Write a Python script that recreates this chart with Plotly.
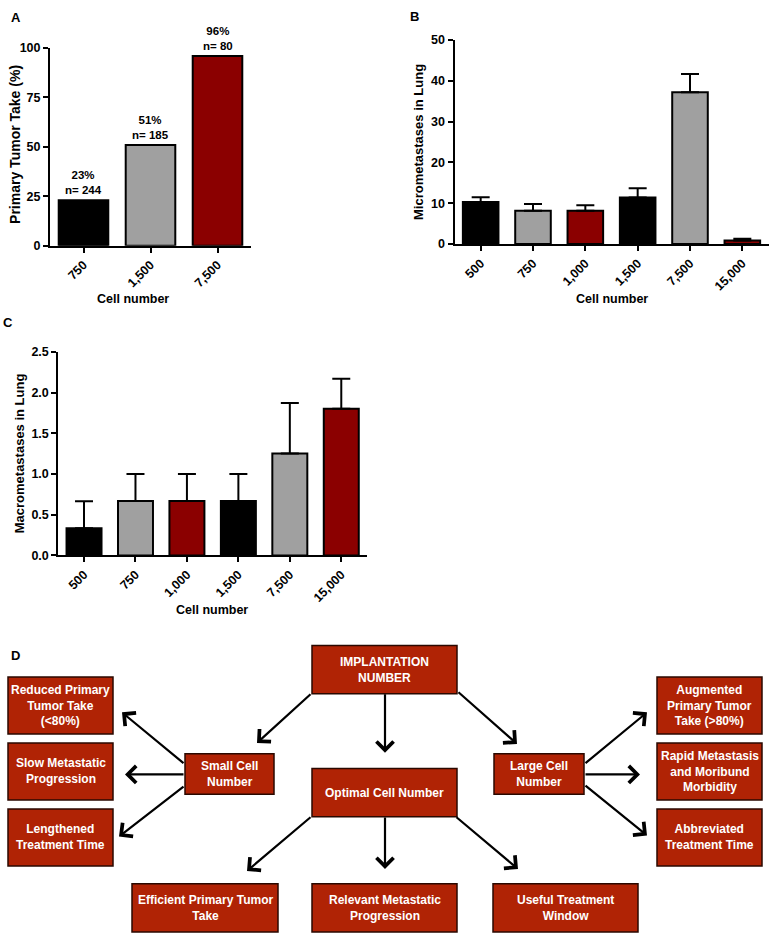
import plotly.graph_objects as go

# ---------------- data ----------------
cats_A = ["750", "1,500", "7,500"]
take_pct = [23, 51, 96]
n_mice = [244, 185, 80]

cats_BC = ["500", "750", "1,000", "1,500", "7,500", "15,000"]
micro_mean = [10.3, 8.2, 8.2, 11.4, 37.2, 0.9]
micro_sem = [1.2, 1.6, 1.3, 2.3, 4.5, 0.4]
macro_mean = [0.333, 0.667, 0.667, 0.667, 1.25, 1.8]
macro_sem = [0.333, 0.333, 0.333, 0.333, 0.62, 0.37]

flow_labels = [
    "IMPLANTATION<br>NUMBER",
    "Small Cell<br>Number",
    "Optimal Cell Number",
    "Large Cell<br>Number",
    "Reduced Primary<br>Tumor Take<br>(&lt;80%)",
    "Slow Metastatic<br>Progression",
    "Lengthened<br>Treatment Time",
    "Augmented<br>Primary Tumor<br>Take (&gt;80%)",
    "Rapid Metastasis<br>and Moribund<br>Morbidity",
    "Abbreviated<br>Treatment Time",
    "Efficient Primary Tumor<br>Take",
    "Relevant Metastatic<br>Progression",
    "Useful Treatment<br>Window",
]

# ---------------- layout helpers ----------------
W, H = 772, 943
FONT = "Liberation Sans, Arial, sans-serif"
palette = ["#000000", "#A0A0A0", "#8B0000"]


def px(x):
    return x / W


def py(y):
    return 1 - y / H


fig = go.Figure()

# Panel A
fig.add_trace(go.Bar(
    x=cats_A, y=take_pct, width=0.74,
    marker=dict(color=[palette[i % 3] for i in range(len(cats_A))],
                line=dict(color="black", width=2)),
    xaxis="x", yaxis="y", showlegend=False))

# Panel B
fig.add_trace(go.Bar(
    x=cats_BC, y=micro_mean, width=0.68,
    marker=dict(color=[palette[i % 3] for i in range(len(cats_BC))],
                line=dict(color="black", width=2)),
    error_y=dict(type="data", array=micro_sem, arrayminus=[0] * len(micro_sem),
                 symmetric=False, color="black", thickness=2, width=9),
    xaxis="x2", yaxis="y2", showlegend=False))

# Panel C
fig.add_trace(go.Bar(
    x=cats_BC, y=macro_mean, width=0.68,
    marker=dict(color=[palette[i % 3] for i in range(len(cats_BC))],
                line=dict(color="black", width=2)),
    error_y=dict(type="data", array=macro_sem, arrayminus=[0] * len(macro_sem),
                 symmetric=False, color="black", thickness=2, width=9),
    xaxis="x3", yaxis="y3", showlegend=False))

tickfont = dict(family=FONT, size=12.5, color="black", weight="bold")
common = dict(showline=True, linecolor="black", linewidth=2, ticks="outside",
              tickwidth=2, tickcolor="black", ticklen=5, showgrid=False,
              zeroline=False, tickfont=tickfont)

fig.update_layout(
    width=W, height=H,
    margin=dict(l=0, r=0, t=0, b=0),
    paper_bgcolor="white", plot_bgcolor="white",
    font=dict(family=FONT, color="black"),
    xaxis=dict(domain=[px(50), px(251)], anchor="y", range=[-0.5, 2.5],
               type="category", tickangle=-45, **common),
    yaxis=dict(domain=[py(242.3), py(41.7)], anchor="x", range=[0, 100],
               tickvals=[0, 25, 50, 75, 100], **common),
    xaxis2=dict(domain=[px(454.5), px(768.5)], anchor="y2", range=[-0.5, 5.5],
                type="category", tickangle=-45, **common),
    yaxis2=dict(domain=[py(240.7), py(33.5)], anchor="x2", range=[0, 50],
                tickvals=[0, 10, 20, 30, 40, 50], **common),
    xaxis3=dict(domain=[px(58.3), px(367)], anchor="y3", range=[-0.5, 5.5],
                type="category", tickangle=-45, **common),
    yaxis3=dict(domain=[py(556.7), py(350)], anchor="x3", range=[0, 2.5],
                tickvals=[0, 0.5, 1.0, 1.5, 2.0, 2.5], tickformat=".1f", **common),
)

ann = []
# value labels on panel A
for i, (v, n) in enumerate(zip(take_pct, n_mice)):
    ann.append(dict(x=i, y=v, xref="x", yref="y", text=f"{v}%<br>n= {n}",
                    showarrow=False, yanchor="bottom", yshift=2,
                    font=dict(family=FONT, size=11.5, color="black", weight="bold")))

# panel letters
for letter, (lx, ly) in zip("ABCD", [(16, 11), (414, 10), (8, 320), (15, 658)]):
    ann.append(dict(x=px(lx), y=py(ly), xref="paper", yref="paper", text=letter,
                    showarrow=False, xanchor="center", yanchor="middle",
                    font=dict(family=FONT, size=13, color="black", weight="bold")))

# axis titles
titles = [
    ("Primary Tumor Take (%)", 15, 140, -90, 14),
    ("Cell number", 133, 296, 0, 12.5),
    ("Micrometastases in Lung", 419, 137, -90, 13),
    ("Cell number", 612, 296, 0, 12.5),
    ("Macrometastases in Lung", 19, 453, -90, 13),
    ("Cell number", 212, 612, 0, 12.5),
]
for t, tx, ty, ang, fs in titles:
    ann.append(dict(x=px(tx), y=py(ty), xref="paper", yref="paper", text=t,
                    showarrow=False, textangle=ang, xanchor="center", yanchor="middle",
                    font=dict(family=FONT, size=fs, color="black", weight="bold")))

# ---------------- flowchart (panel D) ----------------
box_pos = [
    (312, 648, 457, 697),
    (185, 758, 274, 799),
    (312, 773, 457, 822),
    (494, 758, 584, 799),
    (8, 680, 113, 738),
    (8, 747, 113, 805),
    (8, 814, 113, 872),
    (657, 680, 762, 738),
    (657, 747, 762, 805),
    (657, 814, 762, 872),
    (132, 890, 278, 939),
    (312, 890, 457, 939),
    (493, 890, 638, 939),
]
shapes = []
for lab, (x0, y0, x1, y1) in zip(flow_labels, box_pos):
    shapes.append(dict(type="rect", xref="paper", yref="paper",
                       x0=px(x0), x1=px(x1), y0=py(y1), y1=py(y0),
                       fillcolor="#B02305", line=dict(color="#2a0800", width=1.5)))
    ann.append(dict(x=px((x0 + x1) / 2), y=py((y0 + y1) / 2), xref="paper", yref="paper",
                    text=lab, showarrow=False, xanchor="center", yanchor="middle",
                    align="center",
                    font=dict(family=FONT, size=12, color="white", weight="bold")))

arrows = [
    ((312, 697), (257, 747)),
    ((385, 697), (385, 757)),
    ((457, 695), (517, 748)),
    ((185, 768), (122, 716)),
    ((185, 779), (125, 779)),
    ((185, 791), (119, 842)),
    ((312, 822), (247, 877)),
    ((385, 822), (385, 875)),
    ((455, 822), (518, 875)),
    ((584, 768), (647, 716)),
    ((584, 779), (640, 779)),
    ((584, 790), (647, 841)),
]
for (sx, sy), (ex, ey) in arrows:
    ann.append(dict(x=px(ex), y=py(ey), xref="paper", yref="paper",
                    ax=sx - ex, ay=sy - ey, axref="pixel", ayref="pixel",
                    text="", showarrow=True, arrowhead=4, arrowsize=1.5,
                    arrowwidth=2.2, arrowcolor="black", standoff=0))

fig.update_layout(annotations=ann, shapes=shapes)

fig.write_html("out.html",
               config={"displayModeBar": False},
               post_script="document.body.style.margin='0';document.body.style.overflow='hidden';")
